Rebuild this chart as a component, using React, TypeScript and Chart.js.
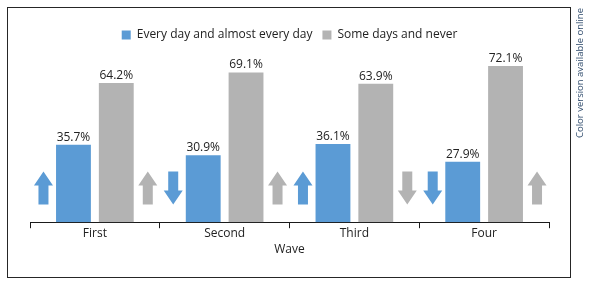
import React, { useEffect, useRef } from "react";
import { Chart, registerables } from "chart.js";

Chart.register(...registerables);

const categories = ["First", "Second", "Third", "Four"];
const seriesNames = ["Every day and almost every day", "Some days and never"];
const everyDay = [35.7, 30.9, 36.1, 27.9];
const someDays = [64.2, 69.1, 63.9, 72.1];
const everyDayTrend = ["up", "down", "up", "down"];
const someDaysTrend = ["up", "up", "down", "up"];
const axisTitle = "Wave";
const sideNote = "Color version available online";

const BLUE = "#5b9bd5";
const GRAY = "#b3b3b3";
const FONT = "'Open Sans', 'Noto Sans', sans-serif";

function drawArrow(ctx: CanvasRenderingContext2D, cx: number, yTop: number, yBot: number, dir: string, color: string) {
  const hw = 9.5;
  const sw = 5;
  const head = 14;
  ctx.save();
  ctx.fillStyle = color;
  ctx.beginPath();
  if (dir === "up") {
    ctx.moveTo(cx, yTop);
    ctx.lineTo(cx + hw, yTop + head);
    ctx.lineTo(cx + sw, yTop + head);
    ctx.lineTo(cx + sw, yBot);
    ctx.lineTo(cx - sw, yBot);
    ctx.lineTo(cx - sw, yTop + head);
    ctx.lineTo(cx - hw, yTop + head);
  } else {
    ctx.moveTo(cx, yBot);
    ctx.lineTo(cx + hw, yBot - head);
    ctx.lineTo(cx + sw, yBot - head);
    ctx.lineTo(cx + sw, yTop);
    ctx.lineTo(cx - sw, yTop);
    ctx.lineTo(cx - sw, yBot - head);
    ctx.lineTo(cx - hw, yBot - head);
  }
  ctx.closePath();
  ctx.fill();
  ctx.restore();
}

const decorPlugin = {
  id: "decor",
  afterDatasetsDraw(chart: any) {
    const ctx: CanvasRenderingContext2D = chart.ctx;
    const y = chart.scales.y;
    ctx.save();
    ctx.font = `12px ${FONT}`;
    ctx.fillStyle = "#222";
    ctx.textAlign = "center";
    ctx.textBaseline = "alphabetic";
    chart.data.datasets.forEach((ds: any, di: number) => {
      const meta = chart.getDatasetMeta(di);
      meta.data.forEach((bar: any, i: number) => {
        ctx.fillText(`${ds.data[i].toFixed(1)}%`, bar.x, bar.y - 4);
      });
    });
    ctx.restore();
    const yTop = y.getPixelForValue(23.4);
    const yBot = y.getPixelForValue(8.2);
    const m0 = chart.getDatasetMeta(0);
    const m1 = chart.getDatasetMeta(1);
    categories.forEach((_, i) => {
      const b0 = m0.data[i];
      const b1 = m1.data[i];
      drawArrow(ctx, b0.x - 30, yTop, yBot, everyDayTrend[i], BLUE);
      drawArrow(ctx, b1.x + 31.5, yTop, yBot, someDaysTrend[i], GRAY);
    });
  },
  afterDraw(chart: any) {
    const ctx: CanvasRenderingContext2D = chart.ctx;
    ctx.save();
    ctx.strokeStyle = "#262626";
    ctx.lineWidth = 1;
    ctx.strokeRect(7.5, 7.5, 563, 270);
    ctx.translate(580, 73);
    ctx.rotate(-Math.PI / 2);
    ctx.font = `9.5px ${FONT}`;
    ctx.fillStyle = "#2e4a6b";
    ctx.textAlign = "center";
    ctx.textBaseline = "middle";
    ctx.fillText(sideNote, 0, 0);
    ctx.restore();
  },
};

export default function App() {
  const ref = useRef<HTMLCanvasElement>(null);
  useEffect(() => {
    if (!ref.current) return;
    const chart = new Chart(ref.current, {
      type: "bar",
      data: {
        labels: categories,
        datasets: [
          { label: seriesNames[0], data: everyDay, backgroundColor: BLUE, categoryPercentage: 0.66, barPercentage: 0.814 },
          { label: seriesNames[1], data: someDays, backgroundColor: GRAY, categoryPercentage: 0.66, barPercentage: 0.814 },
        ],
      },
      options: {
        animation: false,
        responsive: false,
        maintainAspectRatio: false,
        layout: { padding: { left: 30, right: 41, top: 19, bottom: 30 } },
        plugins: {
          legend: {
            position: "top",
            labels: {
              boxWidth: 9,
              boxHeight: 9,
              padding: 10,
              color: "#222",
              font: { family: FONT, size: 12 },
            },
          },
          tooltip: { enabled: false },
        },
        scales: {
          x: {
            offset: true,
            grid: { display: true, drawOnChartArea: false, offset: true, tickLength: 6, color: "#1a1a1a" },
            border: { display: true, color: "#1a1a1a", width: 1 },
            ticks: { color: "#222", padding: -2, font: { family: FONT, size: 12 } },
            title: { display: true, text: axisTitle, color: "#222", padding: { top: 4, bottom: 0 }, font: { family: FONT, size: 12 } },
          },
          y: { display: false, min: 0, max: 79 },
        },
      },
      plugins: [decorPlugin],
    });
    return () => chart.destroy();
  }, []);
  return (
    <div style={{ position: "fixed", left: 0, top: 0, width: 590, height: 287, background: "#fff" }}>
      <canvas ref={ref} width={590} height={287} style={{ width: 590, height: 287 }} />
    </div>
  );
}
